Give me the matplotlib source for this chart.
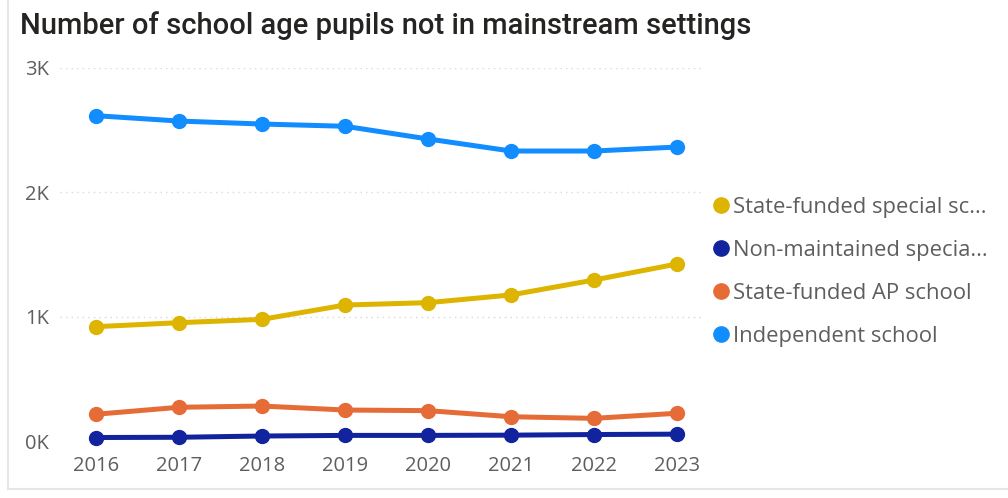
#imports
import matplotlib
matplotlib.use("Agg")
import matplotlib.pyplot as plt
from matplotlib.lines import Line2D


#data
years = [2016, 2017, 2018, 2019, 2020, 2021, 2022, 2023]
independent = [2615, 2572, 2548, 2530, 2428, 2331, 2331, 2363]
state_special = [919, 951, 978, 1093, 1112, 1174, 1294, 1423]
state_ap = [215, 271, 281, 249, 244, 195, 182, 223]
non_maintained = [28, 30, 40, 45, 45, 47, 52, 55]

labels = ["State-funded special sc...", "Non-maintained specia...",
          "State-funded AP school", "Independent school"]
colors = ["#DDB400", "#12239E", "#E66C37", "#118DFF"]
series = [state_special, non_maintained, state_ap, independent]

yticks = [0, 1000, 2000, 3000]
yticklabels = ["0K", "1K", "2K", "3K"]

text_grey = "#605E5C"

fig = plt.figure(figsize=(10.08, 4.98), dpi=100)
ax = fig.add_axes([60 / 1008, 1 - 441 / 498, 645 / 1008, (441 - 67.8) / 498])

# draw in reverse so the independent line sits on top like the original
for vals, c in zip(series[::-1], colors[::-1]):
    ax.plot(years, vals, color=c, lw=3.6, marker="o", ms=10, clip_on=False,
            solid_capstyle="round", zorder=3)

ax.set_xlim(2016 - 36 / 83, 2023 + 28 / 83)
ax.set_ylim(0, 3000)
ax.set_xticks(years)
ax.set_xticklabels([str(y) for y in years])
ax.set_yticks(yticks)
ax.set_yticklabels(yticklabels)

for v in yticks[1:]:
    ax.axhline(v, color="#d9d9d9", lw=1, ls=(0, (1, 3)), zorder=1)

for s in ax.spines.values():
    s.set_visible(False)
ax.tick_params(length=0, colors=text_grey, labelsize=14.5)
ax.tick_params(axis="x", pad=11)
ax.tick_params(axis="y", pad=8)
for t in ax.get_xticklabels() + ax.get_yticklabels():
    t.set_fontfamily("Open Sans")

# legend
handles = [Line2D([], [], ls="none", marker="o", ms=11, color=c) for c in colors]
leg = ax.legend(handles, labels, loc="upper left", bbox_to_anchor=(706 / 1008, 1 - 188 / 498),
                bbox_transform=fig.transFigure, frameon=False, handlelength=0.55,
                handletextpad=0.3, labelspacing=1.0, borderaxespad=0,
                prop={"family": "Open Sans", "size": 15.8})
for t in leg.get_texts():
    t.set_color(text_grey)

# title
fig.text(20 / 1008, 1 - 26 / 498, "Number of school age pupils not in mainstream settings",
         fontsize=21, family="Roboto", fontweight="medium", color="#252423",
         va="center", ha="left")

# card frame
fig.add_artist(Line2D([8 / 1008, 8 / 1008], [1 - 489 / 498, 1], color="#e6e6e6", lw=1.5))
fig.add_artist(Line2D([8 / 1008, 1], [1 - 489 / 498, 1 - 489 / 498], color="#e6e6e6", lw=1.5))

fig.savefig("out.png", dpi=100)
